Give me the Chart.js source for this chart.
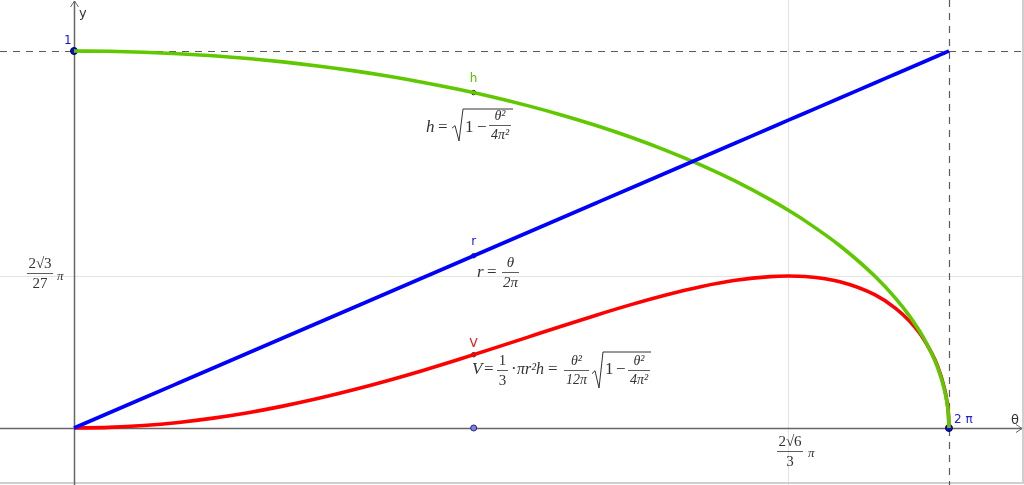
<!DOCTYPE html>
<html>
<head>
<meta charset="utf-8">
<script src="https://cdn.jsdelivr.net/npm/chart.js@4/dist/chart.umd.min.js"></script>
<style>
  html, body { margin: 0; padding: 0; background: #fff; }
  #wrap { width: 1024px; height: 485px; }
</style>
</head>
<body>
<div id="wrap"><canvas id="chart" width="1024" height="485"></canvas></div>
<script>
// angle theta (rad) and the three curves
const theta = [0, 0.25, 0.5, 0.75, 1, 1.25, 1.5, 1.75, 2, 2.25, 2.5, 2.75, 3, 3.25, 3.5, 3.75, 4, 4.25, 4.5, 4.75, 5, 5.13, 5.25, 5.5, 5.75, 5.9, 6.0, 6.1, 6.2, 6.25, 6.27, 6.28, 6.2832];
const rVals = [0, 0.0398, 0.0796, 0.1194, 0.1592, 0.1989, 0.2387, 0.2785, 0.3183, 0.3581, 0.3979, 0.4377, 0.4775, 0.5173, 0.5570, 0.5968, 0.6366, 0.6764, 0.7162, 0.7560, 0.7958, 0.8165, 0.8356, 0.8754, 0.9151, 0.9390, 0.9549, 0.9709, 0.9868, 0.9947, 0.9979, 0.9995, 1.0];
const hVals = [1, 0.9992, 0.9968, 0.9929, 0.9873, 0.9800, 0.9711, 0.9604, 0.9480, 0.9337, 0.9174, 0.8991, 0.8787, 0.8558, 0.8305, 0.8024, 0.7712, 0.7365, 0.6979, 0.6546, 0.6056, 0.5774, 0.5494, 0.4835, 0.4031, 0.3439, 0.2968, 0.2397, 0.1622, 0.1026, 0.0648, 0.0319, 0];
const vVals = [0, 0.0017, 0.0066, 0.0148, 0.0262, 0.0406, 0.0580, 0.0780, 0.1006, 0.1254, 0.1521, 0.1804, 0.2098, 0.2398, 0.2699, 0.2993, 0.3273, 0.3529, 0.3749, 0.3918, 0.4016, 0.4031, 0.4017, 0.3880, 0.3536, 0.3175, 0.2835, 0.2366, 0.1654, 0.1063, 0.0676, 0.0334, 0];

// slider point and the marked points on each curve
const sliderTheta = [2.87];
const markR = [0.457];
const markH = [0.8896];
const markV = [0.1944];

// special values
const xGrid = [5.1302];      // 2√6/3 π
const yGrid = [0.4031];      // 2√3/27 π
const xDashed = [6.2832];    // 2π
const yDashed = [1];
const bluePtsX = [0, 6.2832];
const bluePtsY = [1, 0];

const pts = (xs, ys) => xs.map((x, i) => ({ x: x, y: ys[i] }));

const MATH = '"Liberation Serif", "DejaVu Serif", serif';
const INK = '#333';

function t(ctx, s, x, y, font, color, align) {
  ctx.font = font;
  ctx.fillStyle = color;
  ctx.textAlign = align || 'left';
  ctx.textBaseline = 'middle';
  ctx.fillText(s, x, y);
}
function frac(ctx, num, den, x1, x2, y, size, numStyle, denStyle) {
  const cx = (x1 + x2) / 2;
  ctx.strokeStyle = INK;
  ctx.lineWidth = 0.8;
  ctx.beginPath(); ctx.moveTo(x1, y + 0.5); ctx.lineTo(x2, y + 0.5); ctx.stroke();
  t(ctx, num, cx, y - size * 0.62, (numStyle || '') + ' ' + size + 'px ' + MATH, INK, 'center');
  t(ctx, den, cx, y + size * 0.72, (denStyle || '') + ' ' + size + 'px ' + MATH, INK, 'center');
}
function radical(ctx, x0, top, bottom, xEnd) {
  const h = bottom - top;
  ctx.strokeStyle = INK;
  ctx.lineWidth = 1;
  ctx.beginPath();
  ctx.moveTo(x0, top + h * 0.6);
  ctx.lineTo(x0 + 3, top + h * 0.52);
  ctx.lineTo(x0 + 7, bottom);
  ctx.lineTo(x0 + 11, top);
  ctx.lineTo(xEnd, top);
  ctx.stroke();
}
function arrowHead(ctx, x, y, dir) {
  ctx.beginPath();
  if (dir === 'up') { ctx.moveTo(x - 4, y + 6); ctx.lineTo(x, y); ctx.lineTo(x + 4, y + 6); }
  else { ctx.moveTo(x - 6, y - 4); ctx.lineTo(x, y); ctx.lineTo(x - 6, y + 4); }
  ctx.stroke();
}

const decor = {
  id: 'decor',
  beforeDatasetsDraw(chart) {
    const ctx = chart.ctx, xs = chart.scales.x, ys = chart.scales.y;
    const W = chart.width, H = chart.height;
    ctx.save();
    // light grid lines at the special values
    ctx.strokeStyle = '#e4e4e4';
    ctx.lineWidth = 1.2;
    xGrid.forEach(v => { const px = Math.round(xs.getPixelForValue(v)) + 0.5; ctx.beginPath(); ctx.moveTo(px, 0); ctx.lineTo(px, H); ctx.stroke(); });
    yGrid.forEach(v => { const py = Math.round(ys.getPixelForValue(v)) + 0.5; ctx.beginPath(); ctx.moveTo(0, py); ctx.lineTo(W, py); ctx.stroke(); });
    // frame at right and bottom
    ctx.strokeStyle = '#cfcfcf';
    ctx.lineWidth = 2;
    ctx.beginPath(); ctx.moveTo(0, H - 2); ctx.lineTo(W - 1, H - 2); ctx.lineTo(W - 1, 0); ctx.stroke();
    // dashed lines at y = 1 and θ = 2π
    ctx.strokeStyle = '#5a5a5a';
    ctx.lineWidth = 1.2;
    ctx.setLineDash([7, 6]);
    yDashed.forEach(v => { const py = Math.round(ys.getPixelForValue(v)) + 0.5; ctx.beginPath(); ctx.moveTo(0, py); ctx.lineTo(W, py); ctx.stroke(); });
    xDashed.forEach(v => { const px = Math.round(xs.getPixelForValue(v)) + 0.5; ctx.beginPath(); ctx.moveTo(px, 0); ctx.lineTo(px, H); ctx.stroke(); });
    ctx.setLineDash([]);
    // axes with arrows
    const ox = Math.round(xs.getPixelForValue(0)) + 0.5;
    const oy = Math.round(ys.getPixelForValue(0)) + 0.5;
    ctx.strokeStyle = '#666';
    ctx.lineWidth = 1.5;
    ctx.beginPath(); ctx.moveTo(ox, H); ctx.lineTo(ox, 1); ctx.stroke();
    ctx.beginPath(); ctx.moveTo(0, oy); ctx.lineTo(W - 2, oy); ctx.stroke();
    ctx.lineWidth = 1;
    arrowHead(ctx, ox, 1, 'up');
    arrowHead(ctx, W - 2, oy, 'right');
    ctx.restore();
  },
  afterDatasetsDraw(chart) {
    const ctx = chart.ctx, xs = chart.scales.x, ys = chart.scales.y;
    const ox = xs.getPixelForValue(0), oy = ys.getPixelForValue(0);
    const sans = '"DejaVu Sans", sans-serif';
    ctx.save();
    t(ctx, 'y', ox + 5, 14, '13px ' + sans, '#333');
    t(ctx, 'θ', 1011, oy - 7, '13px ' + sans, '#333');
    t(ctx, '1', ox - 10, ys.getPixelForValue(1) - 10, '12px ' + sans, '#1010ee');
    t(ctx, '2 π', xs.getPixelForValue(6.2832) + 5, oy - 8, '12px ' + sans, '#2020dd');
    const sx = xs.getPixelForValue(sliderTheta[0]);
    t(ctx, 'h', sx, ys.getPixelForValue(markH[0]) - 14, '12px ' + sans, '#55c000', 'center');
    t(ctx, 'r', sx, ys.getPixelForValue(markR[0]) - 14, '12px ' + sans, '#1010ee', 'center');
    t(ctx, 'V', sx, ys.getPixelForValue(markV[0]) - 11, '12px ' + sans, '#ee1010', 'center');

    const it = 'italic 17px ' + MATH, rm = '17px ' + MATH;
    // h = sqrt(1 - θ²/4π²)
    t(ctx, 'h', 426, 128, it, INK);
    t(ctx, '=', 438, 128, rm, INK);
    radical(ctx, 452, 109, 141, 513);
    t(ctx, '1', 465, 128, rm, INK);
    t(ctx, '−', 477, 128, rm, INK);
    frac(ctx, 'θ²', '4π²', 489, 511, 125, 14, 'italic', 'italic');
    // r = θ / 2π
    t(ctx, 'r', 477, 273, it, INK);
    t(ctx, '=', 487, 273, rm, INK);
    frac(ctx, 'θ', '2π', 502, 519, 272, 15, 'italic', 'italic');
    // V = 1/3 · πr²h = θ²/12π sqrt(1 - θ²/4π²)
    t(ctx, 'V', 472, 370, it, INK);
    t(ctx, '=', 484, 370, rm, INK);
    frac(ctx, '1', '3', 497, 508, 370, 15);
    t(ctx, '·', 511, 370, rm, INK);
    t(ctx, 'πr²h', 517, 370, 'italic 16px ' + MATH, INK);
    t(ctx, '=', 548, 370, rm, INK);
    frac(ctx, 'θ²', '12π', 564, 589, 370, 14, 'italic', 'italic');
    radical(ctx, 592, 352, 388, 651);
    t(ctx, '1', 605, 370, rm, INK);
    t(ctx, '−', 616, 370, rm, INK);
    frac(ctx, 'θ²', '4π²', 628, 650, 370, 14, 'italic', 'italic');
    // special value labels
    frac(ctx, '2√3', '27', 27, 53, 273, 15);
    t(ctx, 'π', 57, 277, 'italic 13px ' + MATH, INK);
    frac(ctx, '2√6', '3', 777, 803, 451, 15);
    t(ctx, 'π', 808, 454, 'italic 13px ' + MATH, INK);
    ctx.restore();
  }
};

const curve = (ys, color) => ({
  data: pts(theta, ys), showLine: true, borderColor: color, borderWidth: 3.6,
  pointRadius: 0, cubicInterpolationMode: 'monotone'
});

new Chart(document.getElementById('chart'), {
  type: 'scatter',
  data: {
    datasets: [
      curve(rVals, '#0000ff'),
      curve(hVals, '#5fc800'),
      curve(vVals, '#ff0000'),
      { data: pts([sliderTheta[0], sliderTheta[0], sliderTheta[0]], [markR[0], markH[0], markV[0]]),
        showLine: false, pointRadius: 2.2, pointBackgroundColor: 'rgba(255,255,255,0.2)', pointBorderColor: '#111', pointBorderWidth: 1 },
      { data: pts(sliderTheta, [0]), showLine: false, pointRadius: 3, pointBackgroundColor: '#7f7fe8', pointBorderColor: '#26267a', pointBorderWidth: 1 },
      { data: pts(bluePtsX, bluePtsY), showLine: false, pointRadius: 3.5, pointBackgroundColor: '#0f0fbf', pointBorderColor: '#000060', pointBorderWidth: 1 }
    ]
  },
  options: {
    responsive: false,
    animation: false,
    layout: { padding: 0, autoPadding: false },
    plugins: { legend: { display: false }, tooltip: { enabled: false } },
    scales: {
      x: { type: 'linear', display: false, min: -0.5314, max: 6.822 },
      y: { type: 'linear', display: false, min: -0.1512, max: 1.1353 }
    }
  },
  plugins: [decor]
});
</script>
</body>
</html>
